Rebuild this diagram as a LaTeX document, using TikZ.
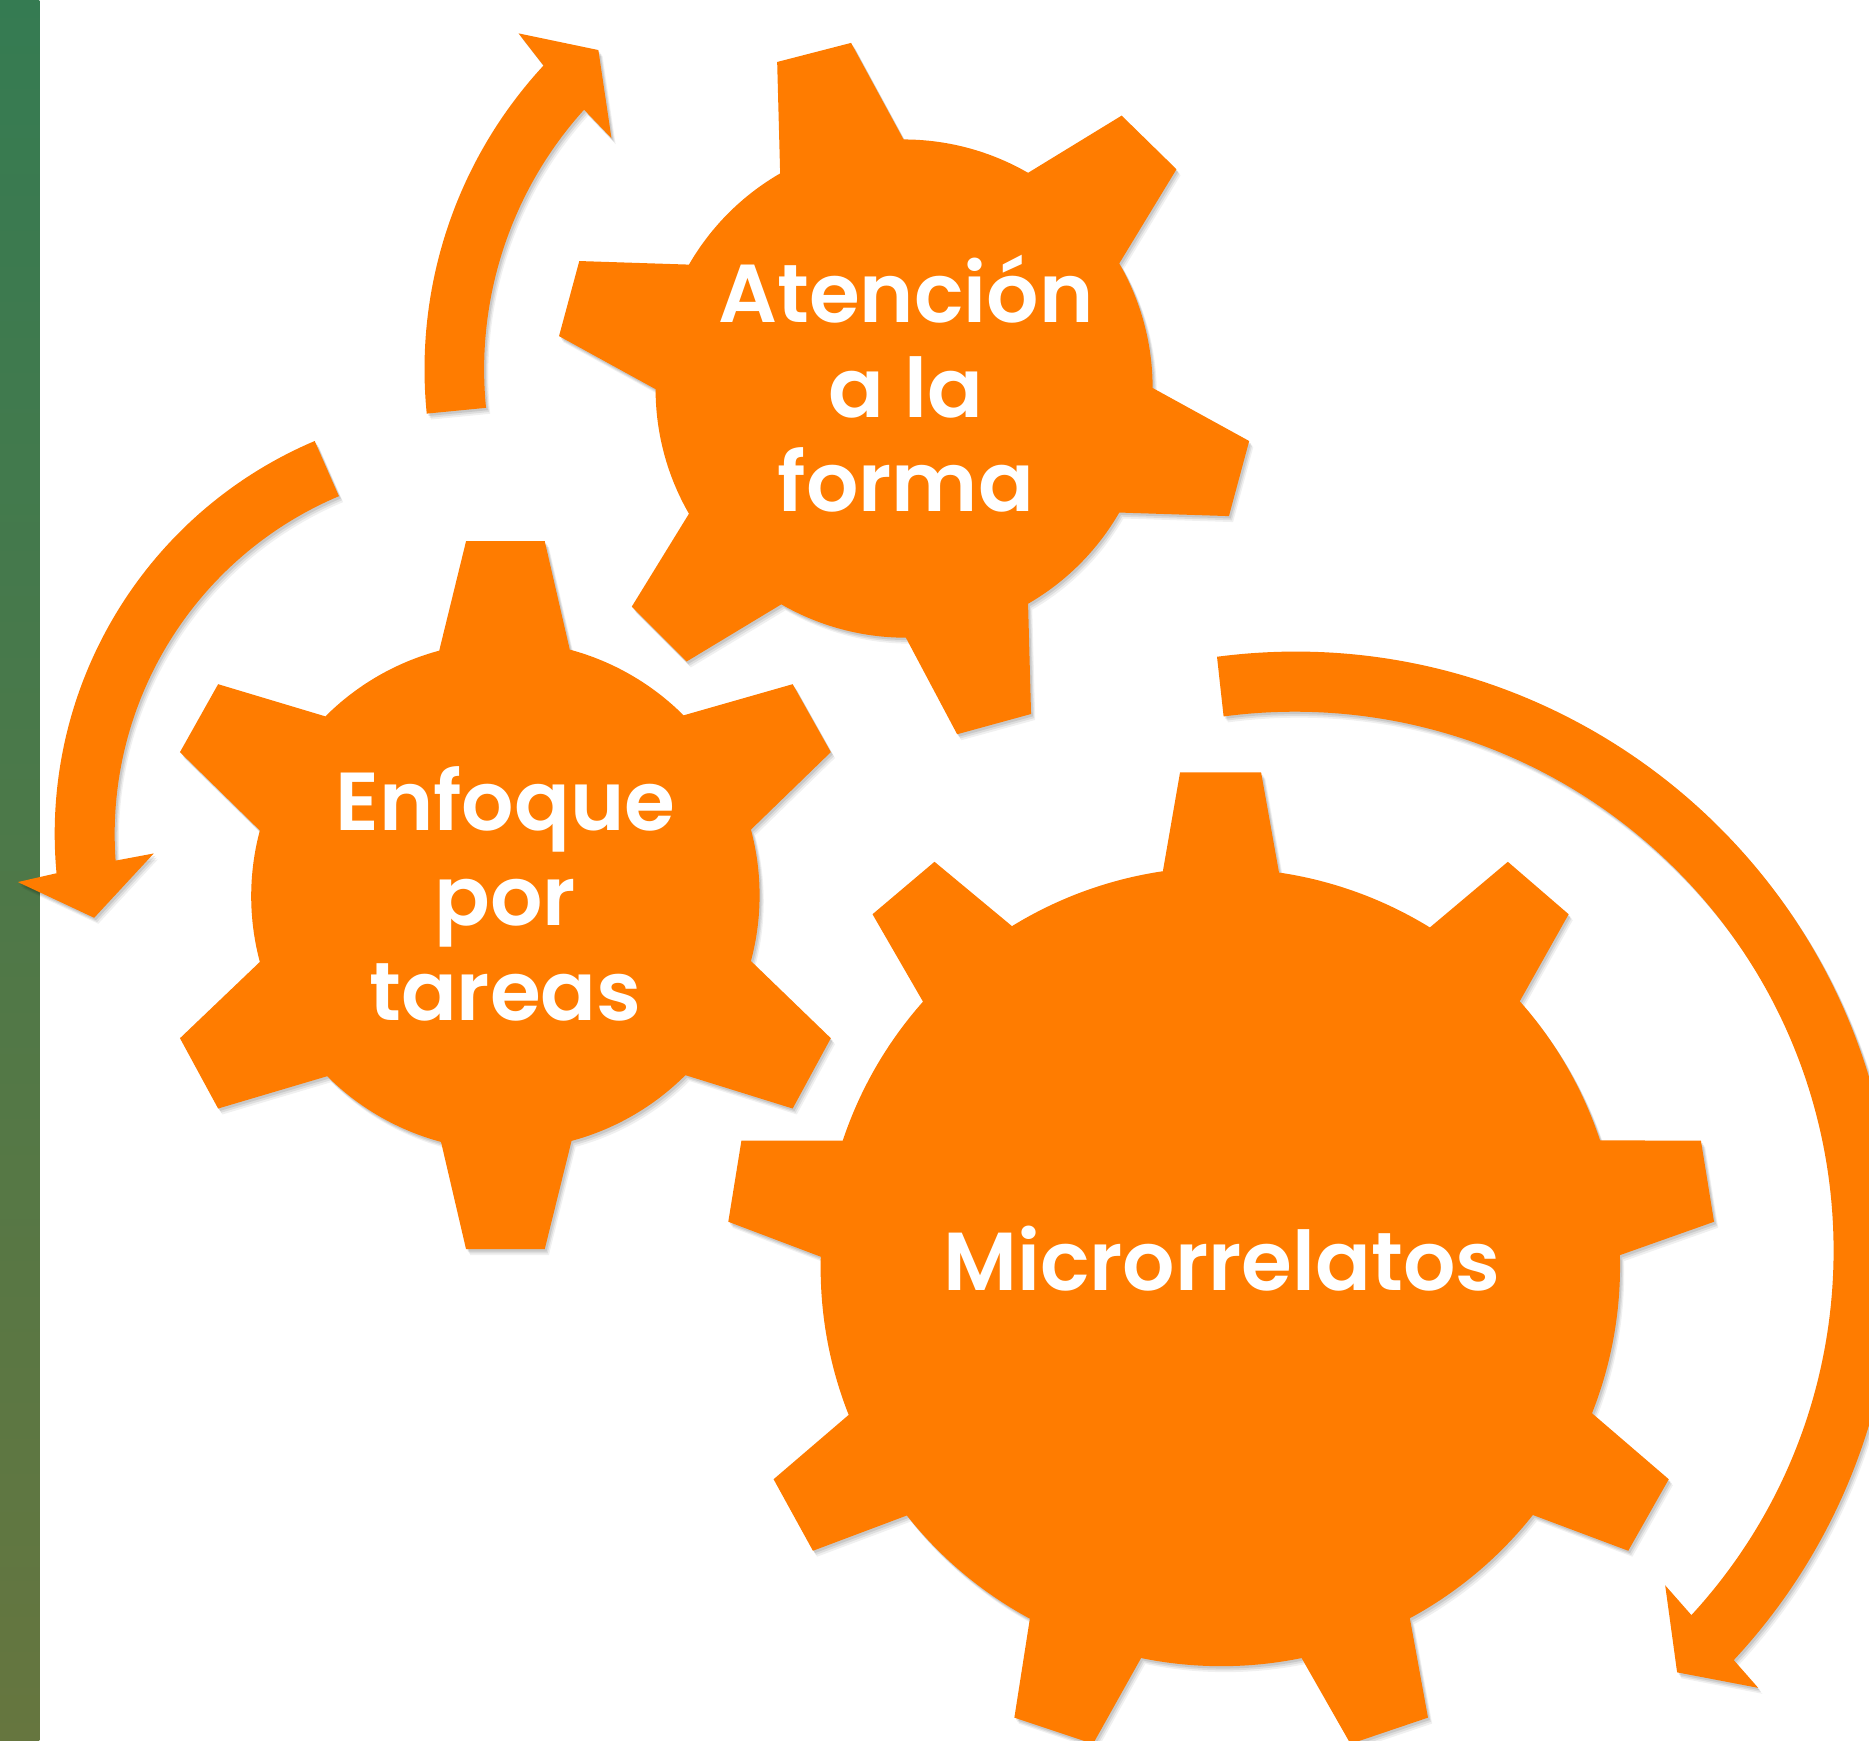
\documentclass[tikz,border=0pt]{standalone}
\usepackage{fontspec}
\setmainfont{Poppins}[BoldFont=Poppins]
\newfontfamily\gearfont{Poppins SemiBold}
\definecolor{gearorange}{HTML}{FF7C00}
\definecolor{bartop}{HTML}{357B52}
\definecolor{barbottom}{HTML}{66763F}
\tikzset{
  softshade/.style={
    preaction={fill=black,opacity=.09,transform canvas={shift={(1.5,2)}}},
    preaction={fill=black,opacity=.08,transform canvas={shift={(2.5,3.5)}}},
    preaction={fill=black,opacity=.06,transform canvas={shift={(3.5,5)}}},
    fill=gearorange},
  gearlabel/.style={text=white,align=center,font=\gearfont\fontsize{34.5}{39.75}\selectfont,inner sep=0pt}
}
\begin{document}
\begin{tikzpicture}[x=0.5pt,y=-0.5pt]
\useasboundingbox (0,0) rectangle (1568,1460);
\clip (0,0) rectangle (1568,1460);
\fill[white] (0,0) rectangle (1568,1460);
\shade[top color=bartop,bottom color=barbottom] (0,0) rectangle (33,1460);

% gear: Atencion a la forma
\path[softshade] (652,52) -- (714,36) -- (758,117)
  arc[start angle=-90,end angle=-60,radius=209] -- (941,97) -- (987,142) -- (939,221)
  arc[start angle=-30,end angle=0,radius=209] -- (1048,370) -- (1031,433) -- (939,430)
  arc[start angle=30,end angle=60,radius=209] -- (865,599) -- (803,616) -- (760,535)
  arc[start angle=90,end angle=120,radius=209] -- (576,555) -- (530,509) -- (578,431)
  arc[start angle=150,end angle=180,radius=209] -- (469,282) -- (486,219) -- (578,222)
  arc[start angle=210,end angle=240,radius=209] -- cycle;

% gear: Enfoque por tareas
\path[softshade] (391,454) -- (457,454) -- (478,545)
  arc[start angle=-75,end angle=-45,radius=213] -- (665,574) -- (697,631) -- (630,696)
  arc[start angle=-15,end angle=15,radius=213] -- (697,871) -- (665,930) -- (575,902)
  arc[start angle=45,end angle=75,radius=213] -- (457,1048) -- (391,1048) -- (370,958)
  arc[start angle=105,end angle=135,radius=213] -- (183,930) -- (151,871) -- (218,807)
  arc[start angle=165,end angle=195,radius=213] -- (151,631) -- (183,574) -- (273,601)
  arc[start angle=225,end angle=255,radius=213] -- cycle;

% gear: Microrrelatos
\path[softshade] (990,648) -- (1058,648) -- (1073,732)
  arc[start angle=-81.6,end angle=-58.4,radius=335] -- (1265,723) -- (1316,767) -- (1275,840)
  arc[start angle=-41.6,end angle=-18.4,radius=335] -- (1427,957) -- (1438,1025) -- (1359,1053)
  arc[start angle=-1.6,end angle=21.6,radius=335] -- (1400,1241) -- (1366,1301) -- (1286,1271)
  arc[start angle=38.4,end angle=61.6,radius=335] -- (1198,1441) -- (1133,1463) -- (1092,1391)
  arc[start angle=78.4,end angle=101.6,radius=335] -- (917,1463) -- (851,1441) -- (864,1358)
  arc[start angle=118.4,end angle=141.6,radius=335] -- (682,1301) -- (649,1241) -- (712,1187)
  arc[start angle=158.4,end angle=181.6,radius=335] -- (611,1025) -- (622,957) -- (707,957)
  arc[start angle=198.4,end angle=221.6,radius=335] -- (732,767) -- (784,723) -- (849,777)
  arc[start angle=238.4,end angle=261.6,radius=335] -- cycle;

% curved arrows
\path[softshade] (358,347) arc[start angle=174.3,end angle=222.8,radius=375]
  -- (435,28) -- (502,42) -- (513,116) -- (490,92)
  arc[start angle=222.1,end angle=174.3,radius=325] -- cycle;
\path[softshade] (264,370) arc[start angle=247,end angle=174.7,radius=358]
  -- (15,740) -- (79,770) -- (129,716) -- (97,722)
  arc[start angle=175.9,end angle=247.1,radius=308] -- cycle;
\path[softshade] (1021,551) arc[start angle=-97.5,end angle=43,radius=503]
  -- (1475,1416) -- (1407,1403) -- (1397,1330) -- (1419,1355)
  arc[start angle=42.6,end angle=-97.6,radius=452] -- cycle;

\node[gearlabel] (forma) at (760,322) {Atención\\a la\\forma};
\node[gearlabel] (tareas) at (424,750) {Enfoque\\por\\tareas};
\node[gearlabel] (micro) at (1025,1056) {Microrrelatos};
\end{tikzpicture}
\end{document}
